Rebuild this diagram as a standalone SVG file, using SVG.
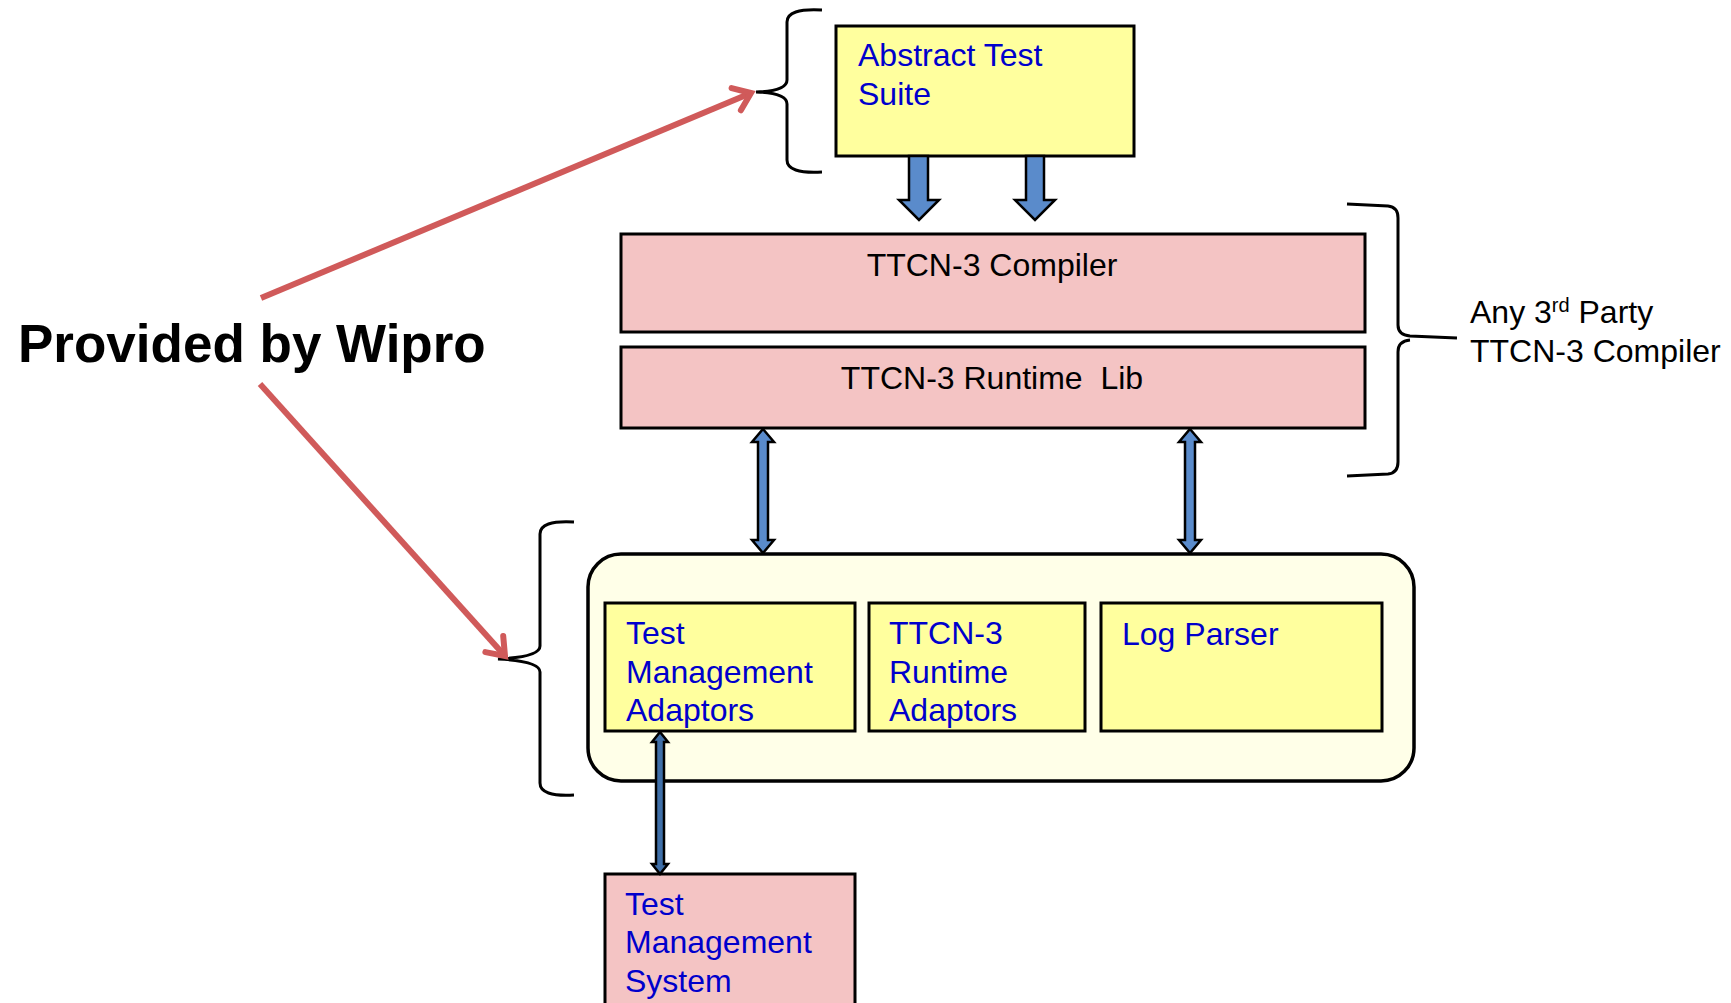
<svg xmlns="http://www.w3.org/2000/svg" width="1731" height="1003" viewBox="0 0 1731 1003">
<defs>
<style>
.box{stroke:#000;stroke-width:3}
.yel{fill:#FFFF9E}
.pink{fill:#F4C4C4}
.cont{fill:#FFFFE8;stroke:#000;stroke-width:3.5}
.blue{font-family:"Liberation Sans",Arial,sans-serif;font-size:32px;fill:#0000CC}
.blk{font-family:"Liberation Sans",Arial,sans-serif;font-size:32px;fill:#000}
.brace{fill:none;stroke:#000;stroke-width:3}
.barrow{fill:#5A8BCB;stroke:#000;stroke-width:2.5;stroke-linejoin:miter}
.red{fill:none;stroke:#D05A5A;stroke-width:6}
</style>
<marker id="redhead" markerUnits="userSpaceOnUse" markerWidth="40" markerHeight="40" refX="20" refY="20" orient="auto" viewBox="0 0 40 40">
<path d="M4,8 L20,20 L4,32" fill="none" stroke="#D05A5A" stroke-width="6" stroke-linecap="round" stroke-linejoin="miter"/>
</marker>
</defs>
<rect width="1731" height="1003" fill="#fff"/>

<g id="brace-top">
<path class="brace" d="M822,10 Q787,8 787,22 L787,80 Q787,91 756,92 Q787,93 787,104 L787,160 Q787,174 822,172"/>
</g>
<g id="brace-right">
<path class="brace" d="M1347,204 L1388,206 Q1398,207 1398,218 L1398,325 Q1398,335 1410,336 L1457,338 M1410,340 Q1398,341 1398,352 L1398,462 Q1398,473 1388,474 L1347,476"/>
</g>
<g id="brace-left">
<path class="brace" d="M574,522 Q540,520 540,534 L540,646 Q540,657 498,659 Q540,661 540,672 L540,783 Q540,797 574,795"/>
</g>

<g id="abstract-test-suite">
<rect class="box yel" x="836" y="26" width="298" height="130"/>
<text class="blue" x="858" y="66">Abstract Test</text>
<text class="blue" x="858" y="105">Suite</text>
</g>

<g id="ttcn3-compiler">
<rect class="box pink" x="621" y="234" width="744" height="98"/>
<text class="blk" x="992" y="276" text-anchor="middle">TTCN-3 Compiler</text>
</g>

<g id="ttcn3-runtime-lib">
<rect class="box pink" x="621" y="347" width="744" height="81"/>
<text class="blk" x="992" y="389" text-anchor="middle" xml:space="preserve">TTCN-3 Runtime  Lib</text>
</g>

<g id="wipro-container">
<rect class="cont" x="588" y="554" width="826" height="227" rx="33" ry="33"/>
</g>

<g id="test-management-adaptors">
<rect class="box yel" x="605" y="603" width="250" height="128"/>
<text class="blue" x="626" y="644">Test</text>
<text class="blue" x="626" y="683">Management</text>
<text class="blue" x="626" y="721">Adaptors</text>
</g>

<g id="ttcn3-runtime-adaptors">
<rect class="box yel" x="869" y="603" width="216" height="128"/>
<text class="blue" x="889" y="644">TTCN-3</text>
<text class="blue" x="889" y="683">Runtime</text>
<text class="blue" x="889" y="721">Adaptors</text>
</g>

<g id="log-parser">
<rect class="box yel" x="1101" y="603" width="281" height="128"/>
<text class="blue" x="1122" y="645">Log Parser</text>
</g>

<g id="test-management-system">
<rect class="box pink" x="605" y="874" width="250" height="140"/>
<text class="blue" x="625" y="915">Test</text>
<text class="blue" x="625" y="953">Management</text>
<text class="blue" x="625" y="992">System</text>
</g>

<g id="label-provided">
<text x="18" y="362" style="font-family:'Liberation Sans',Arial,sans-serif;font-size:53px;font-weight:bold;fill:#000">Provided by Wipro</text>
</g>

<g id="label-third-party">
<text class="blk" x="1470" y="323">Any 3<tspan dy="-11" style="font-size:20px">rd</tspan><tspan dy="11"> Party</tspan></text>
<text class="blk" x="1470" y="362">TTCN-3 Compiler</text>
</g>

<g id="connectors">
<line class="red" x1="261" y1="298" x2="751" y2="93" marker-end="url(#redhead)"/>
<line class="red" x1="260" y1="384" x2="505" y2="656" marker-end="url(#redhead)"/>
<path class="barrow" d="M909,156 L928,156 L928,200 L939,200 L919,220 L899,200 L909,200 Z"/>
<path class="barrow" d="M1026,156 L1044,156 L1044,200 L1055,200 L1035,220 L1015,200 L1026,200 Z"/>
<path class="barrow" d="M763,429 L774,442 L768,442 L768,540 L774,540 L763,553 L752,540 L758,540 L758,442 L752,442 Z"/>
<path class="barrow" d="M1190,429 L1201,442 L1195,442 L1195,540 L1201,540 L1190,553 L1179,540 L1185,540 L1185,442 L1179,442 Z"/>
<path class="barrow" d="M660,732 L668,742 L664,742 L664,864 L668,864 L660,874 L652,864 L656,864 L656,742 L652,742 Z" style="fill:#3F6FA8"/>
</g>
</svg>
